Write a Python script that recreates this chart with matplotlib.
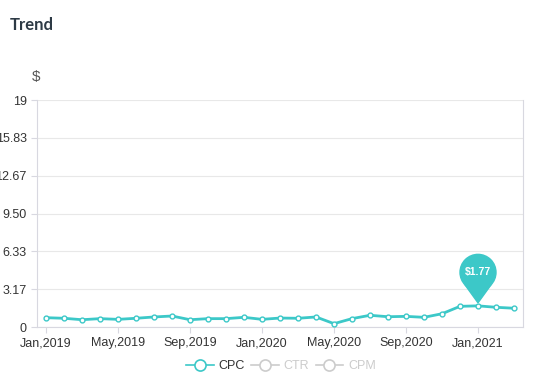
import matplotlib
matplotlib.use("Agg")
import matplotlib.pyplot as plt
from matplotlib.lines import Line2D
from matplotlib.patches import Circle, Polygon
from matplotlib.transforms import ScaledTranslation

plt.rcParams['font.family'] = ['Liberation Sans', 'DejaVu Sans']

# monthly CPC, Jan 2019 .. Mar 2021
months = ['Jan,2019', 'Feb,2019', 'Mar,2019', 'Apr,2019', 'May,2019', 'Jun,2019',
          'Jul,2019', 'Aug,2019', 'Sep,2019', 'Oct,2019', 'Nov,2019', 'Dec,2019',
          'Jan,2020', 'Feb,2020', 'Mar,2020', 'Apr,2020', 'May,2020', 'Jun,2020',
          'Jul,2020', 'Aug,2020', 'Sep,2020', 'Oct,2020', 'Nov,2020', 'Dec,2020',
          'Jan,2021', 'Feb,2021', 'Mar,2021']
cpc = [0.78, 0.73, 0.61, 0.70, 0.64, 0.73, 0.84, 0.92, 0.61, 0.70, 0.70, 0.81,
       0.64, 0.75, 0.73, 0.84, 0.28, 0.70, 0.98, 0.86, 0.89, 0.81, 1.11, 1.73,
       1.77, 1.65, 1.57]
y_ticks = [0, 3.17, 6.33, 9.50, 12.67, 15.83, 19]
y_labels = ['0', '3.17', '6.33', '9.50', '12.67', '15.83', '19']
highlight = 24  # Jan,2021

teal = '#3cc8c8'
grey = '#cccccc'

fig = plt.figure(figsize=(5.49, 3.86), dpi=100)
ax = fig.add_axes([37 / 549, 1 - 327 / 386, (523 - 37) / 549, (327 - 100) / 386])

x = list(range(len(cpc)))
ax.plot(x, cpc, color=teal, lw=2, marker='o', ms=3.5, mfc='white', mec=teal,
        mew=1, solid_joinstyle='round', zorder=3)

ax.set_xlim(-0.5, len(cpc) - 0.5)
ax.set_ylim(0, 19)
ax.set_yticks(y_ticks)
ax.set_yticklabels(y_labels)
ax.set_xticks(x[::4])
ax.set_xticklabels(months[::4])

ax.grid(axis='y', color='#e8e8e8', lw=0.8)
ax.set_axisbelow(True)
for s in ['left', 'bottom', 'right']:
    ax.spines[s].set_color('#d8d8e0')
ax.spines['top'].set_visible(False)
ax.tick_params(colors='#d8d8e0', labelcolor='#333333', labelsize=9, length=4, width=0.8)

# tooltip pin over highlighted point
tr = fig.dpi_scale_trans + ScaledTranslation(highlight, cpc[highlight], ax.transData)
ax.add_patch(Circle((0, 0.335), 0.18, transform=tr, color=teal, zorder=5, clip_on=False))
ax.add_patch(Polygon([(-0.13, 0.21), (0.13, 0.21), (0, 0.03)], transform=tr,
                     color=teal, zorder=5, clip_on=False))
ax.text(0, 0.335, '$1.77', transform=tr, color='white', fontsize=7.5, fontweight='bold',
        ha='center', va='center', zorder=6)

fig.text(10 / 549, 1 - 25 / 386, 'Trend', fontsize=12, fontweight='bold', color='#2d3a45',
         family=['Lato', 'DejaVu Sans'], va='center')
fig.text(36 / 549, 1 - 77 / 386, '$', fontsize=11, color='#555555', ha='center', va='center')

handles = [Line2D([], [], color=c, lw=1.2, marker='o', ms=8, mfc='white', mec=c, mew=1.2)
           for c in [teal, grey, grey]]
leg = fig.legend(handles, ['CPC', 'CTR', 'CPM'], loc='center', bbox_to_anchor=(281 / 549, 1 - 366 / 386),
                 ncol=3, frameon=False, fontsize=9, handlelength=2.2, columnspacing=0.5,
                 handletextpad=0.4)
for t, c in zip(leg.get_texts(), ['#333333', grey, grey]):
    t.set_color(c)

fig.savefig('out.png', dpi=100)
